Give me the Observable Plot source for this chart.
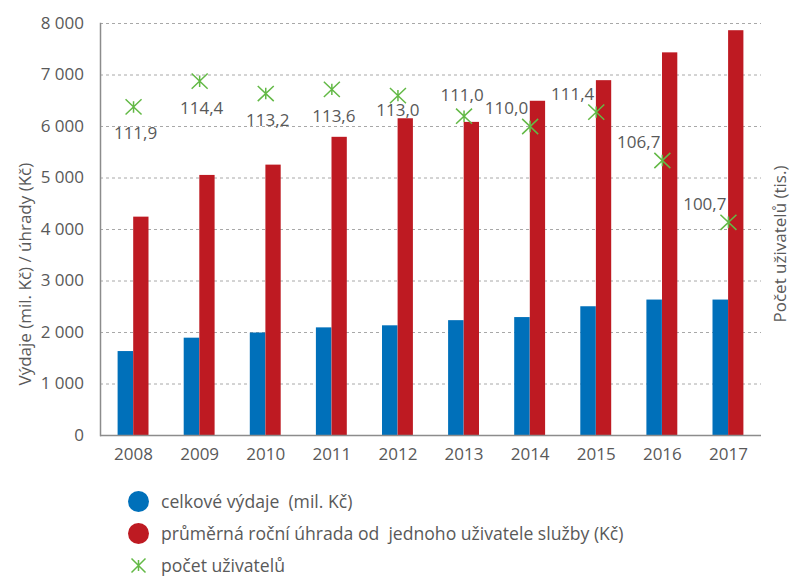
<!DOCTYPE html>
<html>
<head>
<meta charset="utf-8">
<script src="https://cdn.jsdelivr.net/npm/d3@7"></script>
<script src="https://cdn.jsdelivr.net/npm/@observablehq/plot@0.6"></script>
<style>
  body { margin: 0; background: #fff; font-family: "Open Sans", sans-serif; color: #595959; }
  #chart { position: relative; width: 791px; height: 478px; }
  #chart svg { position: absolute; left: 0; top: 0; }
  #legend { margin-top: 7px; }
  .row { height: 32px; display: flex; align-items: center; font-size: 17.6px; white-space: pre; padding-left: 128px; }
  .sw { width: 21px; height: 21px; border-radius: 50%; margin-right: 12px; flex: none; }
  .ast { width: 21px; height: 21px; margin-right: 12px; flex: none; }
</style>
</head>
<body>
<div id="chart"></div>
<div id="legend"></div>
<script>
const years = ["2008", "2009", "2010", "2011", "2012", "2013", "2014", "2015", "2016", "2017"];
const spending = [1630, 1890, 1990, 2090, 2130, 2230, 2290, 2500, 2630, 2630];
const fee = [4240, 5050, 5250, 5790, 6150, 6080, 6490, 6890, 7430, 7860];
const users = [111.9, 114.4, 113.2, 113.6, 113.0, 111.0, 110.0, 111.4, 106.7, 100.7];
const userLabels = ["111,9", "114,4", "113,2", "113,6", "113,0", "111,0", "110,0", "111,4", "106,7", "100,7"];
const yTicks = [0, 1000, 2000, 3000, 4000, 5000, 6000, 7000, 8000];
const yTickLabels = ["0", "1 000", "2 000", "3 000", "4 000", "5 000", "6 000", "7 000", "8 000"];
const seriesNames = ["celkové výdaje  (mil. Kč)", "průměrná roční úhrada od  jednoho uživatele služby (Kč)", "počet uživatelů"];
const yLabelLeft = "Výdaje (mil. Kč) / úhrady (Kč)";
const yLabelRight = "Počet uživatelů (tis.)";

const BLUE = "#0070ba", RED = "#be1a22", GREEN = "#63b946", GRAY = "#595959", AXIS = "#8c8c8c";

const rows = years.map((y, i) => ({year: y, spending: spending[i], fee: fee[i], users: users[i], label: userLabels[i]}));

const W = 791, H = 478;
const margins = {marginLeft: 100, marginRight: 30, marginTop: 23, marginBottom: 43};

const xAsterisk = {
  draw(ctx, size) {
    const r = Math.sqrt(size / Math.PI);
    const h = r * 0.95;
    ctx.moveTo(-r, -h); ctx.lineTo(r, h);
    ctx.moveTo(-r, h); ctx.lineTo(r, -h);
    ctx.moveTo(0, -h * 0.75); ctx.lineTo(0, h * 0.75);
  }
};

const xScale = {type: "band", domain: years, padding: 0, round: false};

const p1 = Plot.plot({
  width: W, height: H, ...margins,
  style: {fontFamily: "'Open Sans', sans-serif", fontSize: "17px", color: GRAY, background: "white"},
  x: xScale,
  y: {domain: [0, 8000]},
  marks: [
    Plot.gridY(yTicks.filter(v => v > 0), {stroke: "#a8a8a8", strokeOpacity: 1, strokeDasharray: "3,3"}),
    Plot.barY(rows, {x: "year", y: "spending", fill: BLUE, insetLeft: 17.6, insetRight: 33}),
    Plot.barY(rows, {x: "year", y: "fee", fill: RED, insetLeft: 33.2, insetRight: 17.6}),
    Plot.ruleY([0], {stroke: AXIS, strokeWidth: 1.5}),
    Plot.frame({anchor: "left", stroke: AXIS, strokeWidth: 1.5}),
    Plot.axisY(yTicks, {tickSize: 0, tickPadding: 16.5, label: null, tickFormat: d => yTickLabels[yTicks.indexOf(d)], fill: GRAY}),
    Plot.axisX({tickSize: 0, tickPadding: 12, label: null, fill: GRAY}),
    Plot.text([yLabelLeft], {frameAnchor: "left", rotate: -90, textAnchor: "start", dx: -75, dy: 156, fill: GRAY, fontSize: 17})
  ]
});

const p2 = Plot.plot({
  width: W, height: H, ...margins,
  style: {fontFamily: "'Open Sans', sans-serif", fontSize: "17px", color: GRAY, background: "transparent"},
  x: {...xScale, axis: null},
  y: {domain: [80, 120], axis: null},
  marks: [
    Plot.dot(rows, {x: "year", y: "users", symbol: xAsterisk, r: 8, stroke: GREEN, strokeWidth: 1.5, fill: "none"}),
    Plot.text(rows, {filter: (d, i) => i < 4, x: "year", y: "users", text: "label", dx: 2, dy: 27, fill: GRAY}),
    Plot.text(rows, {filter: (d, i) => i === 4, x: "year", y: "users", text: "label", dx: 0, dy: 15, fill: GRAY}),
    Plot.text(rows, {filter: (d, i) => i === 5, x: "year", y: "users", text: "label", dx: -2, dy: -21, fill: GRAY}),
    Plot.text(rows, {filter: (d, i) => i > 5, x: "year", y: "users", text: "label", textAnchor: "end", dx: -2, dy: -18, fill: GRAY}),
    Plot.text([yLabelRight], {frameAnchor: "right", rotate: -90, textAnchor: "start", dx: 19, dy: 93, fill: GRAY, fontSize: 17})
  ]
});

const chart = document.getElementById("chart");
chart.append(p1, p2);

const legend = document.getElementById("legend");
const swatches = [
  `<span class="sw" style="background:${BLUE}"></span>`,
  `<span class="sw" style="background:${RED}"></span>`,
  `<svg class="ast" viewBox="-10.5 -10.5 21 21"><path d="M-7,-7L7,7M-7,7L7,-7M0,-5.5L0,5.5" stroke="${GREEN}" stroke-width="1.5" fill="none"/></svg>`
];
seriesNames.forEach((name, i) => {
  const row = document.createElement("div");
  row.className = "row";
  row.innerHTML = swatches[i] + `<span>${name}</span>`;
  legend.append(row);
});
</script>
</body>
</html>
